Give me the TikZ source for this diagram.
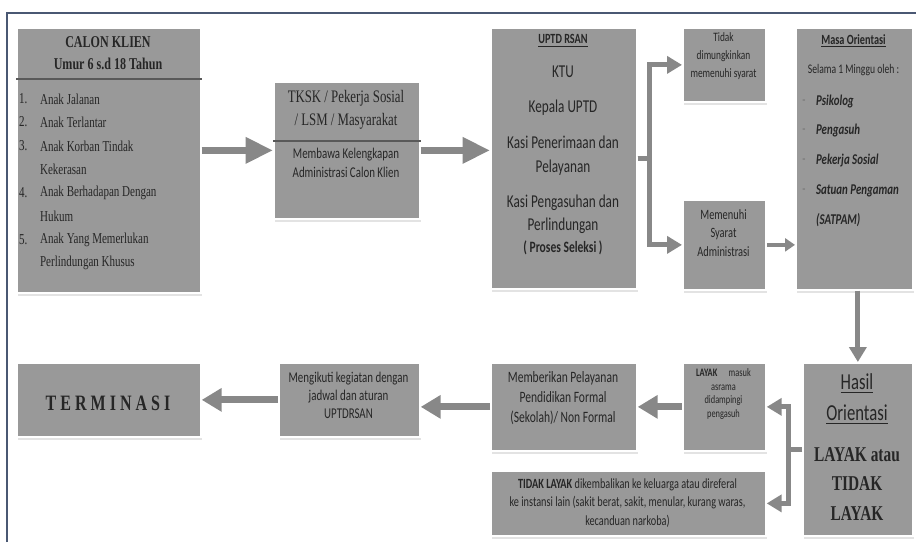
\documentclass[tikz,border=0pt]{standalone}
\usepackage{fontspec}
\setmainfont{Carlito}[FakeStretch=0.73]
\newfontfamily\serifc{Liberation Serif}[FakeStretch=0.73]
\usetikzlibrary{arrows.meta,shadows}
\definecolor{boxgray}{RGB}{153,153,153}
\definecolor{arrowgray}{RGB}{136,136,136}
\definecolor{inkgray}{RGB}{38,38,38}
\definecolor{framecol}{RGB}{74,88,115}
\newcommand{\fs}[2]{\fontsize{#1}{#2}\selectfont}

\tikzset{
  box/.style={draw=white, line width=1pt, fill=boxgray, anchor=north west, inner sep=0pt,
    drop shadow={shadow xshift=0.6pt, shadow yshift=-1.8pt, fill=black!22}},
  txt/.style={text=inkgray, inner sep=1pt, align=center},
  sepline/.style={draw=black!65, line width=0.6pt},
  frameline/.style={draw=framecol, line width=1.2pt},
  bigarrow/.style={draw=arrowgray, line width=0.14cm, -{Triangle[length=0.55cm,width=0.5cm]}},
  lowarrow/.style={draw=arrowgray, line width=0.14cm, -{Triangle[length=0.4cm,width=0.45cm]}},
  midarrow/.style={draw=arrowgray, line width=0.1cm, -{Triangle[length=0.3cm,width=0.34cm]}},
  smallarrow/.style={draw=arrowgray, line width=0.08cm, -{Triangle[length=0.2cm,width=0.26cm]}}
}

\begin{document}
\begin{tikzpicture}[x=0.02cm,y=-0.02cm]
\useasboundingbox (0,0) rectangle (916,542);
% frame
\draw[frameline] (7,542) -- (7,13) -- (916,13);

% upper row
\node[box, minimum width=3.68cm, minimum height=5.3cm] (calon) at (16,27) {};
\node[box, minimum width=2.92cm, minimum height=2.74cm] (tksk) at (273,81) {};
\node[box, minimum width=2.92cm, minimum height=5.22cm] (uptd) at (490,27) {};
\node[box, minimum width=1.66cm, minimum height=1.48cm] (tidak) at (682,27) {};
\node[box, minimum width=1.66cm, minimum height=1.8cm] (syarat) at (682,199) {};
\node[box, minimum width=2.34cm, minimum height=5.24cm] (masa) at (795,27) {};

% lower row
\node[box, minimum width=2.2cm, minimum height=3.46cm] (hasil) at (802,362) {};
\node[box, minimum width=1.66cm, minimum height=1.76cm] (layak) at (682,362) {};
\node[box, minimum width=2.92cm, minimum height=1.76cm] (pelayanan) at (490,362) {};
\node[box, minimum width=5.5cm, minimum height=1.3cm] (tdklayak) at (490,470) {};
\node[box, minimum width=2.82cm, minimum height=1.48cm] (kegiatan) at (278,362) {};
\node[box, minimum width=3.68cm, minimum height=1.48cm] (terminasi) at (16,362) {};

% calon klien
\node[txt, font=\serifc\bfseries\fs{9.4}{12.5}] (calonhead) at (108,53) {CALON KLIEN\\Umur 6 s.d 18 Tahun};
\draw[sepline] (calon.west |- 0,79) -- (calon.east |- 0,79);
\foreach \num/\txt/\yy in {1./Anak Jalanan/99, 2./Anak Terlantar/122, 3./Anak Korban Tindak/146,
    /Kekerasan/169, 4./Anak Berhadapan Dengan/193, /Hukum/216,
    5./Anak Yang Memerlukan/240, /Perlindungan Khusus/263}
{
  \node[txt, anchor=west, font=\serifc\fs{8.6}{10}] (num\yy) at (17,\yy) {\num};
  \node[txt, anchor=west, font=\serifc\fs{8.6}{10}] (item\yy) at (38,\yy) {\txt};
}

% tksk
\node[txt, font=\serifc\fs{10}{13}] (tkskhead) at (346,110) {TKSK / Pekerja Sosial\\/ LSM / Masyarakat};
\draw[sepline] (tksk.west |- 0,141) -- (tksk.east |- 0,141);
\node[txt, font=\fs{8.5}{10.8}] (tksksub) at (346,163) {Membawa Kelengkapan\\Administrasi Calon Klien};

% uptd
\node[txt, font=\bfseries\fs{8}{9}] (uptdhead) at (563,41) {\underline{UPTD RSAN}};
\node[txt, font=\fs{10.3}{13}] (ktu) at (563,72) {KTU};
\node[txt, font=\fs{10.3}{13}] (kepala) at (563,108) {Kepala UPTD};
\node[txt, font=\fs{10.3}{13.6}] (kasia) at (563,156) {Kasi Penerimaan dan\\Pelayanan};
\node[txt, font=\fs{10.3}{13}] (kasib) at (563,214.5) {Kasi Pengasuhan dan\\Perlindungan};
\node[txt, font=\bfseries\fs{9}{11}] (seleksi) at (563,248) {( Proses Seleksi )};

% tidak / memenuhi
\node[txt, font=\fs{7.3}{10.2}] (tidaktxt) at (723.5,56) {Tidak\\dimungkinkan\\memenuhi syarat};
\node[txt, font=\fs{8.1}{10.5}] (syarattxt) at (723.5,233) {Memenuhi\\Syarat\\Administrasi};

% masa orientasi
\node[txt, font=\bfseries\fs{8}{9}] (masahead) at (853.5,41) {\underline{Masa Orientasi}};
\node[txt, font=\fs{7.5}{9}] (selama) at (853.5,70) {Selama 1 Minggu oleh :};
\foreach \yy/\who in {102/Psikolog, 131/Pengasuh, 161/Pekerja Sosial, 191/Satuan Pengaman}
{
  \node[txt, text=black!55, font=\fs{8}{9}] (dash\yy) at (804,\yy) {-};
  \node[txt, anchor=west, font=\bfseries\itshape\fs{8.5}{10}] (who\yy) at (814,\yy) {\who};
}
\node[txt, anchor=west, font=\bfseries\itshape\fs{8.5}{10}] (satpam) at (814,220) {(SATPAM)};

% hasil orientasi
\node[txt, font=\fs{13}{18}] (hasilhead) at (857,399) {\underline{Hasil}\\\underline{Orientasi}};
\node[txt, font=\serifc\bfseries\fs{12}{17}] (hasilres) at (857,484) {LAYAK atau\\TIDAK\\LAYAK};

% lower texts
\node[txt, font=\fs{6.5}{7.7}] (layaktxt) at (723.5,394) {\textbf{LAYAK}\quad masuk\\asrama\\didampingi\\pengasuh};
\node[txt, font=\fs{9}{11.3}] (pelayanantxt) at (563,398) {Memberikan Pelayanan\\Pendidikan Formal\\(Sekolah)/ Non Formal};
\node[txt, font=\fs{8}{10.5}] (tdklayaktxt) at (627.5,503) {\textbf{TIDAK LAYAK} dikembalikan ke keluarga atau direferal\\ke instansi lain (sakit berat, sakit, menular, kurang waras,\\kecanduan narkoba)};
\node[txt, font=\fs{8.5}{10.2}] (kegiatantxt) at (348.5,395) {Mengikuti kegiatan dengan\\jadwal dan aturan\\UPTDRSAN};
\node[txt, font=\serifc\bfseries\fs{12.5}{14}] (terminasitxt) at (108,403) {T E R M I N A S I};

% arrows
\draw[bigarrow] (calon.east |- tksk.west) -- (tksk.west);
\draw[bigarrow] (tksk.east) -- (uptd.west |- tksk.east);
\draw[midarrow] (uptd.east) -- ++(12,0) |- (tidak.west);
\draw[midarrow] (uptd.east) -- ++(12,0) |- (syarat.west);
\draw[smallarrow] (syarat.east) -- (masa.west |- syarat.east);
\draw[midarrow] (masa.south -| hasil.north) -- (hasil.north);
\draw[midarrow] (hasil.west) -- ++(-14,0) |- (layak.east);
\draw[midarrow] (hasil.west) -- ++(-14,0) |- (tdklayak.east);
\draw[lowarrow] (layak.west) -- (pelayanan.east |- layak.west);
\draw[lowarrow] (pelayanan.west) -- (kegiatan.east |- pelayanan.west);
\draw[lowarrow] (kegiatan.west) -- (terminasi.east |- kegiatan.west);
\end{tikzpicture}
\end{document}
